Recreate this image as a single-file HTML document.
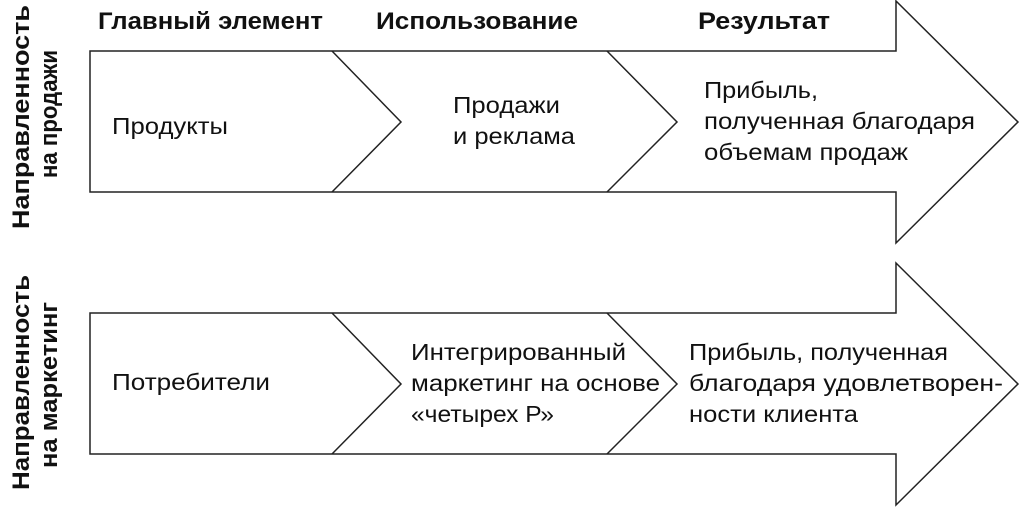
<!DOCTYPE html>
<html><head><meta charset="utf-8"><style>
body{margin:0;background:#fff;width:1020px;height:508px;overflow:hidden}
svg text{font-family:"Liberation Sans",sans-serif;fill:#111}
</style></head><body>
<svg width="1020" height="508" viewBox="0 0 1020 508">
<g fill="#fff" stroke="#222" stroke-width="1.5">
<polygon points="90,51 896,51 896,1 1018,122 896,243 896,192 90,192"/>
<polyline fill="none" points="332,51 401,122 332,192"/>
<polyline fill="none" points="607,51 677,122 607,192"/>
<polygon points="90,313 896,313 896,263 1018,384 896,505 896,454 90,454"/>
<polyline fill="none" points="332,313 401,384 332,454"/>
<polyline fill="none" points="607,313 677,384 607,454"/>
</g>
<g font-weight="bold" font-size="24" lengthAdjust="spacingAndGlyphs">
<text x="98" y="29" textLength="225" lengthAdjust="spacingAndGlyphs">Главный элемент</text>
<text x="376" y="29" textLength="202" lengthAdjust="spacingAndGlyphs">Использование</text>
<text x="698" y="29" textLength="132" lengthAdjust="spacingAndGlyphs">Результат</text>
<text transform="translate(29,229) rotate(-90)" textLength="224" lengthAdjust="spacingAndGlyphs">Направленность</text>
<text transform="translate(57,178) rotate(-90)" textLength="128" lengthAdjust="spacingAndGlyphs">на продажи</text>
<text transform="translate(29,490) rotate(-90)" textLength="215" lengthAdjust="spacingAndGlyphs">Направленность</text>
<text transform="translate(57,468) rotate(-90)" textLength="166" lengthAdjust="spacingAndGlyphs">на маркетинг</text>
</g>
<g font-size="23">
<text x="112" y="134" textLength="116" lengthAdjust="spacingAndGlyphs">Продукты</text>
<text x="453" y="113" textLength="107" lengthAdjust="spacingAndGlyphs">Продажи</text>
<text x="453" y="144" textLength="122" lengthAdjust="spacingAndGlyphs">и реклама</text>
<text x="704" y="98" textLength="114" lengthAdjust="spacingAndGlyphs">Прибыль,</text>
<text x="704" y="129" textLength="271" lengthAdjust="spacingAndGlyphs">полученная благодаря</text>
<text x="704" y="160" textLength="204" lengthAdjust="spacingAndGlyphs">объемам продаж</text>
<text x="112" y="390" textLength="158" lengthAdjust="spacingAndGlyphs">Потребители</text>
<text x="411" y="360" textLength="215" lengthAdjust="spacingAndGlyphs">Интегрированный</text>
<text x="411" y="391" textLength="249" lengthAdjust="spacingAndGlyphs">маркетинг на основе</text>
<text x="411" y="422" textLength="143" lengthAdjust="spacingAndGlyphs">«четырех Р»</text>
<text x="689" y="360" textLength="259" lengthAdjust="spacingAndGlyphs">Прибыль, полученная</text>
<text x="689" y="391" textLength="314" lengthAdjust="spacingAndGlyphs">благодаря удовлетворен-</text>
<text x="689" y="422" textLength="169" lengthAdjust="spacingAndGlyphs">ности клиента</text>
</g>
</svg>
</body></html>
